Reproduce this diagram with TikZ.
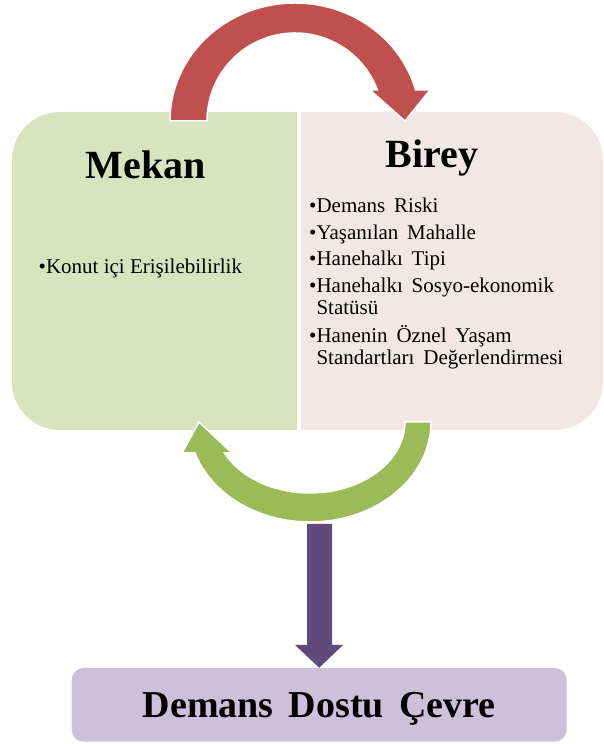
\documentclass[tikz,border=0pt]{standalone}
\usepackage{fontspec}
\setmainfont{Liberation Serif}
\definecolor{redarrow}{HTML}{C0504D}
\definecolor{greenarrow}{HTML}{9BBB59}
\definecolor{purplearrow}{HTML}{604A7B}
\definecolor{leftbox}{HTML}{D7E4BD}
\definecolor{rightbox}{HTML}{F2E6E6}
\definecolor{bottombox}{HTML}{CCC1DA}
\newcommand\widesp[1]{\spaceskip=#1\relax}
\tikzset{
  blockarrow/.style={draw=white, line width=1.5pt, line join=miter},
  title/.style={inner sep=0pt, anchor=base, font=\fontsize{40}{48}\selectfont\bfseries},
  item/.style={inner sep=0pt, anchor=base west, font=\fontsize{21}{22}\selectfont},
}
\begin{document}
\begin{tikzpicture}[x=1pt,y=1pt]
\useasboundingbox (0,0) rectangle (604,744);
% side boxes
\fill[leftbox] (297,314) -- (60,314) arc[start angle=270,end angle=180,radius=48]
  -- (12,584) arc[start angle=180,end angle=90,radius=48] -- (297,632) -- cycle;
\fill[rightbox] (301,314) -- (555,314) arc[start angle=-90,end angle=0,radius=48]
  -- (603,584) arc[start angle=0,end angle=90,radius=48] -- (301,632) -- cycle;
% red arrow (Mekan -> Birey)
\filldraw[blockarrow, fill=redarrow] (170,623)
  arc[start angle=180,end angle=15.23,x radius=125,y radius=118]
  -- (430,654) -- (405,623) -- (370,654) -- (377.4,654)
  arc[start angle=20.63,end angle=180,x radius=88,y radius=88] -- cycle;
% green arrow (Birey -> Mekan)
\filldraw[blockarrow, fill=greenarrow] (431,322)
  arc[start angle=0,end angle=-161.94,x radius=121,y radius=100]
  -- (182,291) -- (199,322) -- (232,291) -- (224.5,291)
  arc[start angle=-154.1,end angle=0,x radius=95,y radius=71] -- cycle;
% bottom box
\node[fill=bottombox, rounded corners=12pt, minimum width=495pt, minimum height=73.7pt,
  inner sep=0pt, text height=25pt, text depth=0pt,
  font=\fontsize{38}{44}\selectfont\bfseries] (dd) at (319.2,39.2) {\widesp{0.4em}Demans Dostu Çevre};
% purple arrow
\coordinate (pa) at (319.5,220);
\fill[purplearrow] ([xshift=-12.5pt]pa) -- ([xshift=12.5pt]pa)
  -- ([xshift=12.5pt]pa |- 0,99) -- ([xshift=23.5pt]pa |- 0,99) -- (dd.north)
  -- ([xshift=-24.5pt]pa |- 0,99) -- ([xshift=-12.5pt]pa |- 0,99) -- cycle;
% titles
\node[title] (mekan) at (145.6,565) {Mekan};
\node[title] (birey) at (432,576) {Birey};
% items
\node[item] (konut) at (38.5,470) {•Konut içi Erişilebilirlik};
\node[item] (l1) at (309,531.3) {\widesp{0.42em}•Demans Riski};
\node[item] (l2) at (309,504.7) {\widesp{0.42em}•Yaşanılan Mahalle};
\node[item] (l3) at (309,478) {\widesp{0.42em}•Hanehalkı Tipi};
\node[item] (l4) at (309,451.3) {\widesp{0.42em}•Hanehalkı Sosyo-ekonomik};
\node[item] (l5) at (309,429) {\hphantom{•}Statüsü};
\node[item] (l6) at (309,401.3) {\widesp{0.42em}•Hanenin Öznel Yaşam};
\node[item] (l7) at (309,379.7) {\widesp{0.42em}\hphantom{•}Standartları Değerlendirmesi};
\end{tikzpicture}
\end{document}
